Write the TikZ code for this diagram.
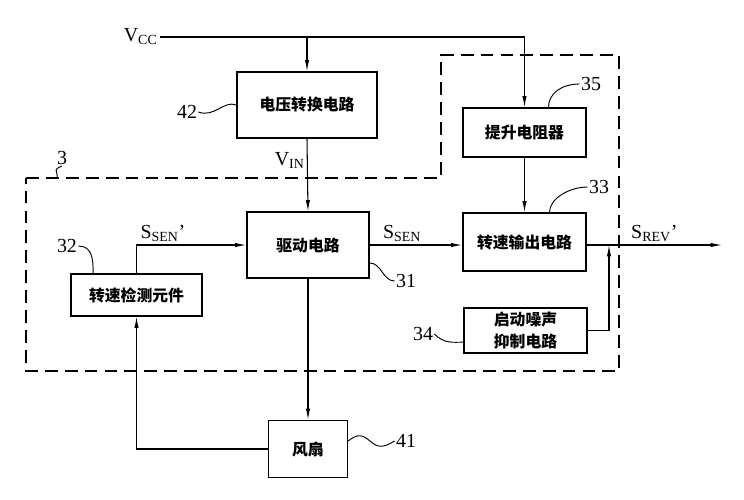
\documentclass[tikz,border=0pt]{standalone}
\usepackage{fontspec}
\setmainfont{Liberation Serif}
\newfontfamily\cjk{Noto Sans CJK SC}
\usetikzlibrary{arrows.meta}
\tikzset{>={Latex[length=3.4mm,width=1.3mm]}}
\tikzset{
  blk/.style={draw, line width=1.1pt, inner sep=0pt, align=center,
    font=\cjk\bfseries\fontsize{13.5}{19}\selectfont},
  num/.style={font=\fontsize{17}{17}\selectfont, inner sep=1pt},
  sig/.style={font=\fontsize{17}{17}\selectfont, inner sep=2pt},
  wire/.style={line width=0.9pt},
  lead/.style={line width=0.8pt},
  border/.style={line width=1pt, dash pattern=on 11pt off 6pt}
}

\begin{document}
\begin{tikzpicture}[x=0.03cm, y=-0.03cm]
    \useasboundingbox (0,0) rectangle (744,500);
    % dashed outline of block 3
    \draw[border] (26,178) -- (441,178) -- (441,55) -- (619,55) -- (619,371) -- (26,371) -- cycle;

    \node[blk, minimum width=4.2cm, minimum height=1.98cm] (conv) at (307,105) {电压转换电路};
    \node[blk, minimum width=3.69cm, minimum height=1.47cm] (pull) at (524.5,132.5) {提升电阻器};
    \node[blk, minimum width=3.69cm, minimum height=1.74cm] (out) at (524.5,242) {转速输出电路};
    \node[blk, minimum width=3.66cm, minimum height=1.98cm] (drv) at (308,245) {驱动电路};
    \node[blk, minimum width=3.69cm, minimum height=1.35cm] (noise) at (525.5,330.5) {启动噪声\\抑制电路};
    \node[blk, minimum width=3.93cm, minimum height=1.26cm] (det) at (136.5,295) {转速检测元件};
    \node[blk, minimum width=2.37cm, minimum height=1.71cm] (fan) at (308,449) {风扇};

    \node[sig, anchor=east] (vcc) at (160,37) {V\textsubscript{CC}};
    \coordinate (rev) at (722,245);
    \coordinate (tap) at (609,245);

    \draw[wire, ->] (vcc.east) -| (pull.north);
    \draw[wire, ->] (vcc.east -| conv.north) -- (conv.north);
    \draw[wire, ->] (conv.south) -- node[sig, left, pos=0.3]{V\textsubscript{IN}} (drv.north);
    \draw[wire, ->] (pull) -- (out);
    \draw[wire, ->] (drv.east) -- node[sig, above, pos=0.35]{S\textsubscript{SEN}} (drv.east -| out.west);
    \draw[wire, ->] (out.east |- rev) -- node[sig, above]{S\textsubscript{REV}'} (rev);
    \draw[wire, ->] (noise.east) -| (tap);
    \draw[wire, ->] (det.north) |- node[sig, above, pos=0.62]{S\textsubscript{SEN}'} (drv.west);
    \draw[wire, ->] (drv) -- (fan);
    \draw[wire, ->] (fan.west) -| (det.south);

    % reference numerals
    \node[num] (n42) at (187,112) {42};
    \draw[lead] (n42.east) .. controls (214,118) and (224,100) .. (conv.west);
    \node[num] (n3) at (62,158) {3};
    \draw[lead] (n3.south) .. controls (52,170) and (58,170) .. (57,178);
    \node[num] (n35) at (591,84) {35};
    \draw[lead] (n35.west) .. controls +(-18,0) and +(0,-14) .. ([xshift=0.72cm]pull.north);
    \node[num] (n33) at (599,187) {33};
    \draw[lead] (n33.west) .. controls +(-18,0) and +(0,-14) .. ([xshift=0.75cm]out.north);
    \node[num] (n31) at (406,281) {31};
    \draw[lead] ([yshift=-0.54cm]drv.east) .. controls +(12,0) and +(-12,0) .. (n31.west);
    \node[num] (n32) at (67,246) {32};
    \draw[lead] (n32.east) .. controls +(14,0) and +(0,-14) .. ([xshift=-1.3cm]det.north);
    \node[num] (n34) at (423,334) {34};
    \draw[lead] (n34.east) .. controls +(10,10) and +(-10,0) .. ([yshift=-0.35cm]noise.west);
    \node[num] (n41) at (406,441) {41};
    \draw[lead] ([yshift=0.24cm]fan.east) .. controls (357,434) and (362,434) .. (370,441)
        .. controls (378,448) and (383,448) .. (n41.west);
\end{tikzpicture}
\end{document}
